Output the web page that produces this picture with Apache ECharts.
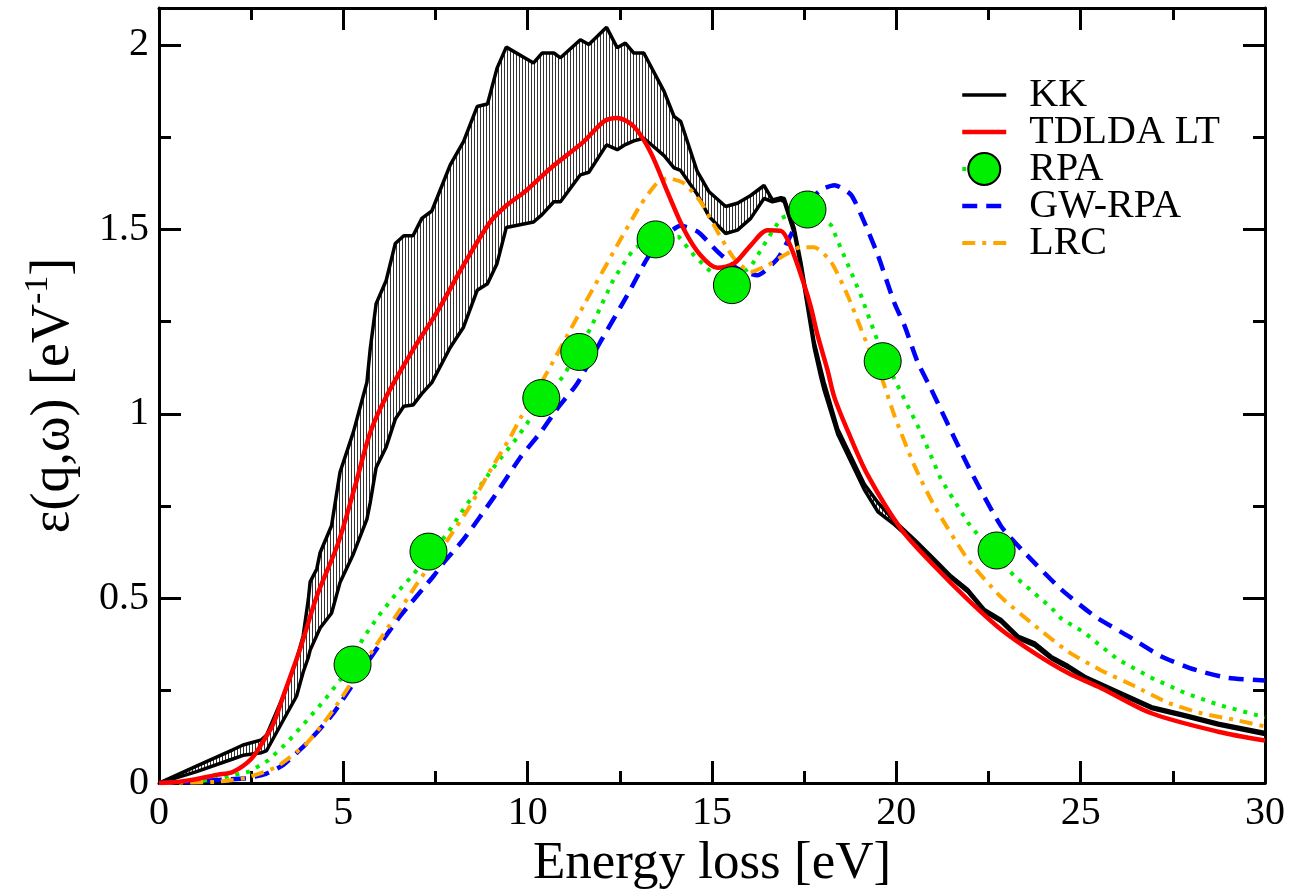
<!DOCTYPE html>
<html><head><meta charset="utf-8">
<script src="https://cdn.jsdelivr.net/npm/echarts@6/dist/echarts.min.js"></script>
<style>html,body{margin:0;padding:0;background:#fff}#c{width:1293px;height:889px}</style>
</head><body><div id="c"></div>
<script>
// ---- data ----
const kkX  = [0,1,2,2.28,2.78,2.92,3.37,3.73,3.91,4.05,4.1,4.28,4.37,4.68,4.91,5.27,5.64,5.73,5.89,6.16,6.41,6.64,6.89,7.13,7.4,7.9,8.26,8.63,8.91,9.17,9.42,10.16,10.39,10.71,10.89,11.43,11.66,12.14,12.43,12.65,12.88,13.15,13.7,13.97,14.15,14.6,14.92,15.37,15.69,16.05,16.41,16.64,16.87,16.96,17.23,17.41,17.59,17.77,17.95,18.04,18.41,19.13,19.5,19.95,20.49,21.03,21.48,21.94,22.39,22.84,23.3,23.75,24.2,24.66,25.11,26.02,26.92,27.83,28.73,30];
const kkHi = [0,0.045,0.09,0.103,0.117,0.13,0.235,0.334,0.398,0.497,0.545,0.58,0.624,0.697,0.842,0.95,1.086,1.177,1.299,1.361,1.462,1.483,1.483,1.53,1.55,1.675,1.738,1.833,1.84,1.937,1.994,1.951,1.978,1.978,1.965,2.014,2.001,2.048,1.992,2.005,1.978,1.978,1.874,1.806,1.793,1.657,1.602,1.562,1.571,1.592,1.619,1.58,1.586,1.584,1.503,1.412,1.304,1.195,1.122,1.086,0.959,0.81,0.76,0.71,0.66,0.606,0.561,0.524,0.47,0.443,0.398,0.38,0.343,0.318,0.289,0.248,0.207,0.185,0.162,0.137];
const kkLo = [0,0.03,0.065,0.075,0.082,0.088,0.17,0.235,0.30,0.34,0.36,0.40,0.42,0.46,0.543,0.62,0.715,0.76,0.855,0.91,0.986,1.021,1.024,1.055,1.085,1.18,1.235,1.335,1.353,1.408,1.505,1.52,1.54,1.575,1.575,1.648,1.655,1.729,1.716,1.73,1.74,1.747,1.70,1.667,1.66,1.595,1.535,1.489,1.498,1.53,1.584,1.575,1.58,1.575,1.49,1.40,1.29,1.18,1.10,1.065,0.945,0.795,0.735,0.70,0.652,0.60,0.556,0.518,0.465,0.437,0.392,0.372,0.337,0.312,0.283,0.242,0.202,0.18,0.157,0.131];

const tdX = [0,0.5,1,1.56,2,2.5,2.87,3.1,3.37,3.82,4.28,4.86,5.32,5.73,6.18,6.91,7.54,8.26,8.99,9.44,9.98,10.62,11.52,12.07,12.43,12.88,13.33,13.79,14.24,14.69,15.15,15.6,16.05,16.51,16.87,17.14,17.5,17.68,17.86,18.13,18.32,18.7,19.22,20.13,21.03,21.94,22.84,23.75,24.66,25.56,26.92,28.73,30];
const tdY = [0,0.003,0.01,0.022,0.03,0.065,0.12,0.16,0.235,0.361,0.506,0.65,0.805,0.95,1.05,1.177,1.276,1.403,1.521,1.566,1.607,1.666,1.738,1.793,1.802,1.779,1.71,1.602,1.5,1.43,1.396,1.408,1.457,1.498,1.496,1.452,1.35,1.29,1.215,1.12,1.045,0.95,0.835,0.688,0.588,0.497,0.416,0.352,0.298,0.257,0.189,0.139,0.115];

const rpaX = [0,1,1.56,2.46,2.96,3.46,3.91,4.46,5,5.54,5.99,6.45,6.9,7.31,7.81,8.26,8.63,9.21,9.71,10.37,10.98,11.7,12.34,12.88,13.47,14.1,14.51,15.06,15.54,16.05,16.6,16.87,17.59,18.23,18.5,18.77,19.04,19.63,20.08,20.67,21.21,21.94,22.72,23.21,23.5,24.2,24.48,25.11,25.56,26.02,26.92,27.83,28.73,30];
const rpaY = [0,0.004,0.01,0.031,0.061,0.108,0.158,0.221,0.29,0.393,0.457,0.515,0.565,0.62,0.674,0.742,0.794,0.873,0.935,1.03,1.104,1.231,1.367,1.448,1.48,1.48,1.43,1.376,1.36,1.399,1.489,1.53,1.56,1.512,1.448,1.385,1.321,1.16,1.068,0.95,0.823,0.706,0.61,0.56,0.535,0.475,0.445,0.407,0.37,0.334,0.285,0.244,0.212,0.178];

const rpaDotX = [5.25,7.31,10.37,11.4,13.47,15.54,17.59,19.63,22.72];
const rpaDotY = [0.321,0.627,1.043,1.168,1.473,1.349,1.554,1.143,0.63];

const gwX = [0,1,1.56,2.37,2.9,3.37,4.01,4.73,5.64,6.54,7.45,7.72,8.26,9.08,9.8,10.35,10.8,11.34,11.97,12.7,13.24,13.7,14.15,14.61,15.15,15.69,16.23,16.78,17.14,17.5,17.95,18.32,18.77,19.13,19.5,19.95,20.22,20.58,20.94,21.94,22.84,23.48,24.48,25.38,26.29,27.19,28.1,29,30];
const gwY = [0,0.003,0.008,0.013,0.025,0.049,0.108,0.189,0.325,0.452,0.561,0.597,0.66,0.774,0.882,0.95,1.014,1.082,1.195,1.321,1.421,1.48,1.51,1.494,1.44,1.394,1.376,1.421,1.485,1.56,1.607,1.62,1.594,1.52,1.43,1.3,1.24,1.14,1.068,0.86,0.696,0.624,0.524,0.452,0.398,0.343,0.307,0.285,0.278];

const lrcX = [0,1.5,2,2.46,3.19,4.01,4.73,5.6,6.54,7,7.81,8.44,9.03,9.53,9.8,10.53,11.52,12.43,13.06,13.5,13.79,14.24,14.69,15.15,15.6,16.05,16.51,16.96,17.41,17.77,18.23,18.68,19.04,19.22,19.58,19.95,20.49,21.03,21.94,22.84,23.75,24.66,25.56,26.47,27.38,28.28,29.19,30];
const lrcY = [0,0.003,0.008,0.017,0.044,0.108,0.198,0.33,0.47,0.54,0.656,0.751,0.855,0.937,0.988,1.113,1.294,1.457,1.566,1.625,1.639,1.625,1.575,1.494,1.421,1.385,1.403,1.43,1.452,1.452,1.412,1.321,1.231,1.186,1.104,0.995,0.86,0.751,0.606,0.504,0.427,0.356,0.305,0.262,0.217,0.189,0.171,0.153];

const yMajor = [0,0.5,1,1.5,2];
const yMinor = [0.25,0.75,1.25,1.75];
const legendNames = ['KK','TDLDA LT','RPA','GW-RPA','LRC'];

// ---- helpers ----
const FONT = '"Liberation Serif","Times New Roman",Times,serif';
const zip = (xs, ys) => xs.map((x, i) => [x, ys[i]]);

const pat = document.createElement('canvas');
pat.width = 3; pat.height = 4;
const pc = pat.getContext('2d');
pc.fillStyle = '#ffffff'; pc.fillRect(0, 0, 3, 4);
pc.fillStyle = '#333333'; pc.fillRect(0, 0, 1, 4);

const BLACK = '#000';
const tickStyle = {color: BLACK, width: 3};
function xAx(pos, labels) {
  return {
    type: 'value', min: 0, max: 30, interval: 5, position: pos,
    axisLine: {show: true, onZero: false, lineStyle: {color: BLACK, width: 3}},
    axisTick: {show: true, inside: true, length: 22, lineStyle: tickStyle},
    minorTick: {show: true, splitNumber: 2, length: 12, lineStyle: tickStyle},
    axisLabel: labels ? {show: true, fontSize: 40, fontFamily: FONT, color: BLACK, margin: 10} : {show: false},
    splitLine: {show: false}, minorSplitLine: {show: false},
    name: labels ? 'Energy loss [eV]' : '',
    nameLocation: 'middle', nameGap: 44,
    nameTextStyle: {fontSize: 53, fontFamily: FONT, color: BLACK}
  };
}
function yAx(pos, major, labels) {
  const o = {
    type: 'value', min: 0, max: 2.1, interval: 0.5, position: pos,
    axisLine: {show: major, onZero: false, lineStyle: {color: BLACK, width: 3}},
    axisTick: {show: true, inside: true, length: major ? 22 : 12, lineStyle: tickStyle,
               customValues: major ? yMajor : yMinor},
    axisLabel: labels ? {show: true, fontSize: 40, fontFamily: FONT, color: BLACK, margin: 10,
                customValues: yMajor,
                formatter: v => (Math.abs(v * 2 - Math.round(v * 2)) < 1e-6 ? String(v) : '')}
              : {show: false},
    splitLine: {show: false}
  };
  if (labels) {
    o.name = '{a|ε(q,ω) [eV}{s|-1}{a|]}';
    o.nameLocation = 'middle';
    o.nameRotate = 90;
    o.nameGap = 78;
    o.nameTextStyle = {
      fontFamily: FONT, color: BLACK,
      rich: {
        a: {fontSize: 54, fontFamily: FONT, color: BLACK, lineHeight: 60, verticalAlign: 'bottom'},
        s: {fontSize: 34, fontFamily: FONT, color: BLACK, lineHeight: 60, verticalAlign: 'top'}
      }
    };
  }
  return o;
}

const noEmph = {disabled: true};
const lineIcon = {opacity: 0};
const chart = echarts.init(document.getElementById('c'), null, {renderer: 'canvas'});
chart.setOption({
  animation: false,
  backgroundColor: '#fff',
  grid: {left: 159, right: 28, top: 8, bottom: 106, containLabel: false, outerBoundsMode: 'none'},
  xAxis: [xAx('bottom', true), xAx('top', false)],
  yAxis: [yAx('left', true, true), yAx('left', false, false), yAx('right', true, false), yAx('right', false, false)],
  legend: {
    orient: 'vertical', left: 955, top: 70,
    itemWidth: 44, itemHeight: 40, itemGap: -3,
    selectedMode: false,
    textStyle: {fontFamily: FONT, fontSize: 40, color: BLACK, lineHeight: 40, padding: [0, 0, 0, 18]},
    data: [
      {name: legendNames[0], itemStyle: lineIcon, lineStyle: {width: 3.5}},
      {name: legendNames[1], itemStyle: lineIcon, lineStyle: {width: 4.5}},
      {name: legendNames[2], lineStyle: {width: 4}},
      {name: legendNames[3], itemStyle: lineIcon, lineStyle: {width: 4.5}},
      {name: legendNames[4], itemStyle: lineIcon, lineStyle: {width: 4}}
    ]
  },
  series: [
    {name: 'KK band', type: 'custom', coordinateSystem: 'cartesian2d', data: [[0, 0]], silent: true, z: 2,
     renderItem: function (params, api) {
       const pts = [];
       for (let i = 0; i < kkX.length; i++) pts.push(api.coord([kkX[i], kkHi[i]]));
       for (let i = kkX.length - 1; i >= 0; i--) pts.push(api.coord([kkX[i], kkLo[i]]));
       return {type: 'polygon', shape: {points: pts}, style: {fill: {image: pat, repeat: 'repeat'}, stroke: null}};
     }},
    {name: 'KK', type: 'line', data: zip(kkX, kkLo), symbol: 'none',
     lineStyle: {color: BLACK, width: 3.5}, itemStyle: {color: BLACK}, z: 3, emphasis: noEmph},
    {name: 'KK', type: 'line', data: zip(kkX, kkHi), symbol: 'none',
     lineStyle: {color: BLACK, width: 3.5}, itemStyle: {color: BLACK}, z: 3, emphasis: noEmph},
    {name: 'TDLDA LT', type: 'line', data: zip(tdX, tdY), symbol: 'none', smooth: 0.3,
     lineStyle: {color: '#ff0000', width: 4.5}, itemStyle: {color: '#ff0000'}, z: 5, emphasis: noEmph},
    {name: 'RPA', type: 'line', data: zip(rpaX, rpaY), symbol: 'circle', symbolSize: 37, showSymbol: false,
     lineStyle: {color: '#00ee00', width: 4, type: [4, 7], cap: 'butt'},
     itemStyle: {color: '#00ee00', borderColor: BLACK, borderWidth: 1}, z: 4, emphasis: noEmph},
    {name: 'GW-RPA', type: 'line', data: zip(gwX, gwY), symbol: 'none', smooth: 0.2,
     lineStyle: {color: '#0000ff', width: 4.5, type: [15, 9], cap: 'butt'}, itemStyle: {color: '#0000ff'}, z: 4, emphasis: noEmph},
    {name: 'LRC', type: 'line', data: zip(lrcX, lrcY), symbol: 'none', smooth: 0.2,
     lineStyle: {color: '#ffa500', width: 4, type: [13, 7, 4, 7], cap: 'butt'}, itemStyle: {color: '#ffa500'}, z: 4, emphasis: noEmph},
    {name: 'RPA', type: 'scatter', data: zip(rpaDotX, rpaDotY), symbol: 'circle', symbolSize: 37,
     itemStyle: {color: '#00ee00', borderColor: BLACK, borderWidth: 1, opacity: 1}, z: 6, emphasis: noEmph}
  ]
});
</script></body></html>
